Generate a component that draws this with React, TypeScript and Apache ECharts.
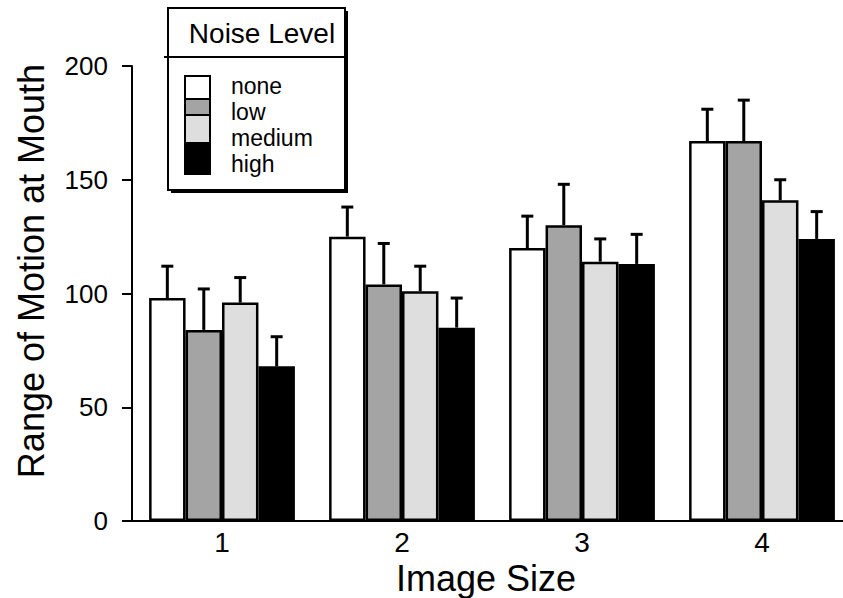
import React, { useEffect, useRef } from "react";
import * as echarts from "echarts";

const categories = ["1", "2", "3", "4"];
const noiseLevels = ["none", "low", "medium", "high"];
const noneValues = [98, 125, 120, 167];
const lowValues = [84, 104, 130, 167];
const mediumValues = [96, 101, 114, 141];
const highValues = [68, 85, 113, 124];
const noneErrors = [14, 13, 14, 14];
const lowErrors = [18, 18, 18, 18];
const mediumErrors = [11, 11, 10, 9];
const highErrors = [13, 13, 13, 12];
const yMin = 0;
const yMax = 200;
const yInterval = 50;
const xTitle = "Image Size";
const yTitle = "Range of Motion at Mouth";
const legendTitle = "Noise Level";

const FONT = "'Liberation Sans', Arial, Helvetica, sans-serif";
const colors = ["#ffffff", "#a4a4a4", "#dedede", "#000000"];
const CAT_GAP = 0.19;

export default function App() {
  const ref = useRef<HTMLDivElement>(null);
  useEffect(() => {
    document.body.style.margin = "0";
    if (!ref.current) return;
    const chart = echarts.init(ref.current, undefined, { renderer: "svg" });
    const values = [noneValues, lowValues, mediumValues, highValues];
    const errors = [noneErrors, lowErrors, mediumErrors, highErrors];
    const errData: number[][] = [];
    values.forEach((vals, s) => {
      vals.forEach((v, c) => {
        errData.push([c, v + errors[s][c], v, s]);
      });
    });
    const swatchY = [76, 99, 115, 143, 174];
    const legendChildren: any[] = [
      { type: "rect", shape: { x: 171, y: 11, width: 177, height: 182 }, style: { fill: "#000" } },
      { type: "rect", shape: { x: 168, y: 8, width: 177, height: 182 }, style: { fill: "#fff", stroke: "#000", lineWidth: 2 } },
      { type: "line", shape: { x1: 164, y1: 57, x2: 345, y2: 57 }, style: { stroke: "#000", lineWidth: 2 } },
      {
        type: "text",
        x: 262,
        y: 33,
        style: { text: legendTitle, font: `28px ${FONT}`, fill: "#000", align: "center", verticalAlign: "middle" },
      },
    ];
    noiseLevels.forEach((n, i) => {
      legendChildren.push({
        type: "rect",
        shape: { x: 185, y: swatchY[i], width: 25, height: swatchY[i + 1] - swatchY[i] },
        style: { fill: colors[i], stroke: "#000", lineWidth: 2 },
      });
      legendChildren.push({
        type: "text",
        x: 231,
        y: 86 + i * 26,
        style: {
          text: n,
          font: `23px ${FONT}`,
          fill: "#000",
          align: "left",
          verticalAlign: "middle",
        },
      });
    });

    chart.setOption({
      animation: false,
      backgroundColor: "#fff",
      grid: { left: 132, right: 8, top: 66, bottom: 77, containLabel: false, outerBoundsMode: "none" },
      xAxis: {
        type: "category",
        data: categories,
        axisLine: { show: true, lineStyle: { color: "#000", width: 2 } },
        axisTick: { show: false },
        axisLabel: { color: "#000", fontSize: 28, fontFamily: FONT, margin: 7 },
        name: xTitle,
        nameLocation: "middle",
        nameGap: 29,
        nameTextStyle: { color: "#000", fontSize: 36, fontFamily: FONT, padding: [0, 12, 0, 0] },
      },
      yAxis: {
        type: "value",
        min: yMin,
        max: yMax,
        interval: yInterval,
        splitLine: { show: false },
        axisLine: { show: true, lineStyle: { color: "#000", width: 2 } },
        axisTick: { show: true, inside: false, length: 10, lineStyle: { color: "#000", width: 2 } },
        axisLabel: { color: "#000", fontSize: 26, fontFamily: FONT, margin: 24, padding: [0, 0, 7, 0] },
      },
      graphic: [
        {
          type: "text",
          x: 31,
          y: 271,
          rotation: Math.PI / 2,
          style: { text: yTitle, font: `36px ${FONT}`, fill: "#000", align: "center", verticalAlign: "middle" },
        },
        { type: "group", children: legendChildren },
      ],
      series: [
        ...noiseLevels.map((n, i) => ({
          name: n,
          type: "bar",
          data: values[i],
          barGap: "0%",
          barCategoryGap: `${CAT_GAP * 100}%`,
          itemStyle: { color: colors[i], borderColor: "#000", borderWidth: 2.5 },
          z: 3,
        })),
        {
          type: "custom",
          z: 2,
          data: errData,
          encode: { x: 0, y: 1 },
          renderItem: (params: any, api: any) => {
            const cat = api.value(0);
            const top = api.value(1);
            const base = api.value(2);
            const idx = api.value(3);
            const band = api.size([1, 0])[0];
            const bw = (band * (1 - CAT_GAP)) / 4;
            const b = api.coord([cat, base]);
            const t = api.coord([cat, top]);
            const x = b[0] + (idx - 1.5) * bw;
            const st = { stroke: "#000", lineWidth: 3 };
            return {
              type: "group",
              children: [
                { type: "line", shape: { x1: x, y1: b[1], x2: x, y2: t[1] }, style: st },
                { type: "line", shape: { x1: x - 6, y1: t[1], x2: x + 6, y2: t[1] }, style: st },
              ],
            };
          },
        },
      ],
    });
    return () => chart.dispose();
  }, []);
  return (
    <div style={{ width: 843, height: 598, overflow: "hidden", position: "relative" }}>
      <div ref={ref} style={{ width: 860, height: 598 }} />
    </div>
  );
}
